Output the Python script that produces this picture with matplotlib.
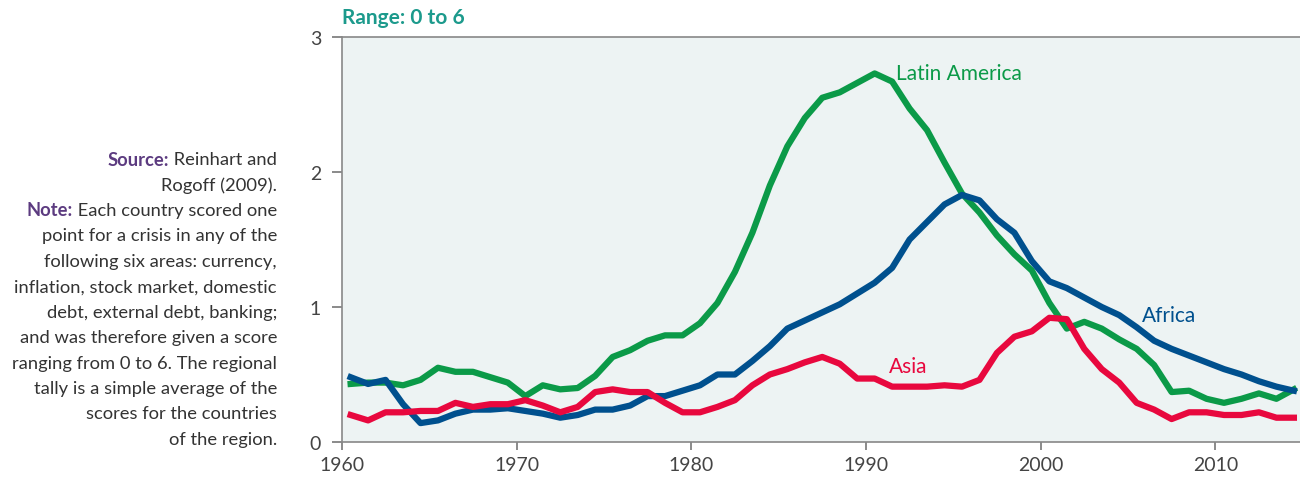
import matplotlib.pyplot as plt
import numpy as np

plt.rcParams['font.family'] = ['Lato', 'DejaVu Sans']

years = np.arange(1960, 2015)

# crisis tally by region
africa = [0.48, 0.43, 0.46, 0.28, 0.14, 0.16, 0.21, 0.24, 0.24, 0.25,
          0.23, 0.21, 0.18, 0.20, 0.24, 0.24, 0.27, 0.34, 0.34, 0.38,
          0.42, 0.50, 0.50, 0.60, 0.71, 0.84, 0.90, 0.96, 1.02, 1.10,
          1.18, 1.29, 1.50, 1.63, 1.76, 1.83, 1.79, 1.65, 1.55, 1.34,
          1.19, 1.14, 1.07, 1.00, 0.94, 0.85, 0.75, 0.69, 0.64, 0.59,
          0.54, 0.50, 0.45, 0.41, 0.38]
latin_america = [0.43, 0.44, 0.44, 0.42, 0.46, 0.55, 0.52, 0.52, 0.48, 0.44,
                 0.34, 0.42, 0.39, 0.40, 0.49, 0.63, 0.68, 0.75, 0.79, 0.79,
                 0.88, 1.03, 1.26, 1.55, 1.90, 2.19, 2.40, 2.55, 2.59, 2.66,
                 2.73, 2.67, 2.47, 2.31, 2.07, 1.84, 1.70, 1.53, 1.39, 1.27,
                 1.03, 0.84, 0.89, 0.84, 0.76, 0.69, 0.57, 0.37, 0.38, 0.32,
                 0.29, 0.32, 0.36, 0.32, 0.39]
asia = [0.20, 0.16, 0.22, 0.22, 0.23, 0.23, 0.29, 0.26, 0.28, 0.28,
        0.31, 0.27, 0.22, 0.26, 0.37, 0.39, 0.37, 0.37, 0.29, 0.22,
        0.22, 0.26, 0.31, 0.42, 0.50, 0.54, 0.59, 0.63, 0.58, 0.47,
        0.47, 0.41, 0.41, 0.41, 0.42, 0.41, 0.46, 0.66, 0.78, 0.82,
        0.92, 0.91, 0.69, 0.54, 0.44, 0.29, 0.24, 0.17, 0.22, 0.22,
        0.20, 0.20, 0.22, 0.18, 0.18]

green = '#0b9a48'
blue = '#00508e'
red = '#e8083e'
teal = '#1c9a8c'
purple = '#5c3b80'
grey = '#444444'

fig = plt.figure(figsize=(13, 4.81), dpi=100)
ax = fig.add_axes([0.263, 0.079, 0.737, 0.842])
ax.set_facecolor('#edf3f3')

x = years + 0.5
ax.plot(x, latin_america, color=green, lw=4.5, solid_joinstyle='round')
ax.plot(x, africa, color=blue, lw=4.5, solid_joinstyle='round')
ax.plot(x, asia, color=red, lw=4.5, solid_joinstyle='round')

ax.set_xlim(1960, 2014.85)
ax.set_ylim(0, 3)
ax.set_xticks(np.arange(1960, 2011, 10))
ax.set_yticks([0, 1, 2, 3])
ax.tick_params(axis='both', colors='#777777', labelcolor=grey, labelsize=14,
               width=1.2)
ax.tick_params(axis='x', length=6, pad=4)
ax.tick_params(axis='y', length=7, pad=8)
for s in ['left', 'bottom', 'top']:
    ax.spines[s].set_color('#888888')
    ax.spines[s].set_linewidth(1.2)
ax.spines['right'].set_visible(False)

ax.text(1991.75, 2.73, 'Latin America', color=green, fontsize=15, va='center')
ax.text(2005.8, 0.94, 'Africa', color=blue, fontsize=15, va='center')
ax.text(1991.3, 0.56, 'Asia', color=red, fontsize=15, va='center')

fig.text(0.263, 0.963, 'Range: 0 to 6', color=teal, fontsize=15,
         fontweight='bold', va='center')

note_lines = [
    ('Source:', ' Reinhart and'),
    ('', 'Rogoff (2009).'),
    ('Note:', ' Each country scored one'),
    ('', 'point for a crisis in any of the'),
    ('', 'following six areas: currency,'),
    ('', 'inflation, stock market, domestic'),
    ('', 'debt, external debt, banking;'),
    ('', 'and was therefore given a score'),
    ('', 'ranging from 0 to 6. The regional'),
    ('', 'tally is a simple average of the'),
    ('', 'scores for the countries'),
    ('', 'of the region.'),
]
y0 = 481 - 160
fig.canvas.draw()
r = fig.canvas.get_renderer()
for i, (head, body) in enumerate(note_lines):
    yy = (y0 - i * 25.45) / 481
    t = fig.text(277 / 1300, yy, body, ha='right', va='center',
                 color='#333333', fontsize=13.2)
    if head:
        bb = t.get_window_extent(renderer=r)
        fig.text(bb.x0 / 1300, yy, head, ha='right', va='center',
                 color=purple, fontsize=13.2, fontweight='bold')

fig.savefig('out.png', dpi=100)
